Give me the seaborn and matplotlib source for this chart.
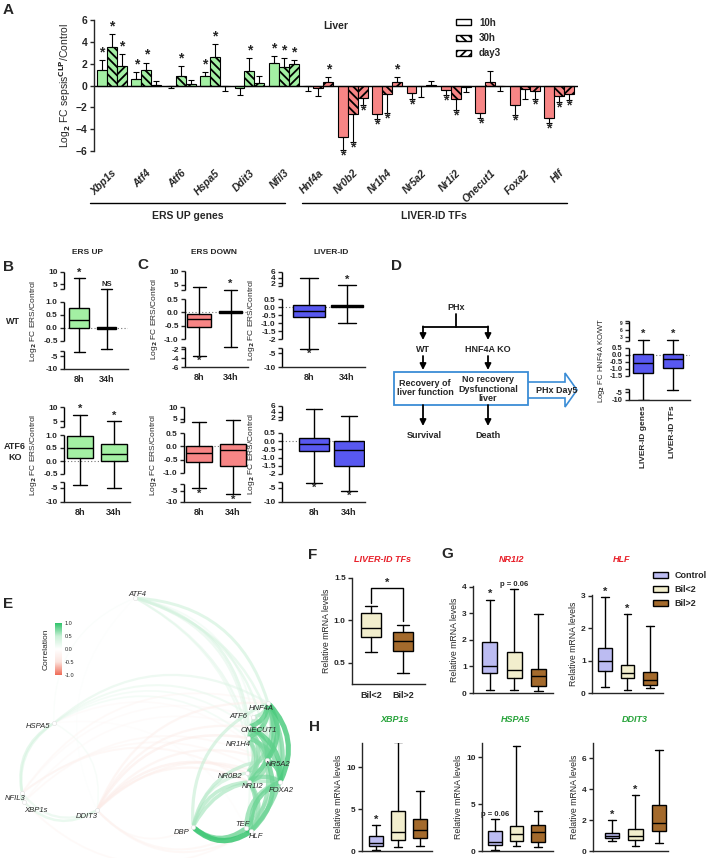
import numpy as np
import pandas as pd
import matplotlib
matplotlib.use("Agg")
import matplotlib.pyplot as plt
import seaborn as sns
from matplotlib.patches import Patch, FancyArrowPatch, Rectangle, FancyArrow
from matplotlib.lines import Line2D
from matplotlib.colors import LinearSegmentedColormap, Normalize
from matplotlib.cm import ScalarMappable
from matplotlib.transforms import ScaledTranslation

# -------------------------------
# Data
# -------------------------------
# A: log2 FC sepsis / control in liver
genes = ["Xbp1s", "Atf4", "Atf6", "Hspa5", "Ddit3", "Nfil3", "Hnf4a", "Nr0b2",
         "Nr1h4", "Nr5a2", "Nr1i2", "Onecut1", "Foxa2", "Hlf"]
n_ers = 6
time_points = ["10h", "30h", "day3"]
fc_10h = [1.4, 0.6, -0.02, 0.9, -0.2, 2.1, -0.02, -4.7, -2.6, -0.7, -0.45, -2.5, -1.8, -3.0]
fc_30h = [3.5, 1.4, 0.9, 2.6, 1.3, 1.65, -0.2, -2.6, -0.75, -0.02, -1.2, 0.35, -0.3, -1.0]
fc_day3 = [1.8, 0.05, 0.1, -0.02, 0.25, 2.0, 0.3, -1.1, 0.3, 0.02, -0.1, -0.02, -0.5, -0.8]
err_10h = [0.9, 0.6, 0.2, 0.3, 0.7, 0.6, 0.5, 1.2, 0.5, 0.5, 0.4, 0.5, 0.9, 0.4]
err_30h = [1.2, 0.7, 0.9, 1.2, 1.2, 0.85, 0.8, 2.6, 1.8, 1.0, 1.0, 0.95, 0.9, 0.5]
err_day3 = [1.1, 0.35, 0.4, 0.5, 0.6, 0.3, 0.5, 0.7, 0.5, 0.4, 0.5, 0.45, 0.7, 0.5]
sig_10h = [1, 1, 0, 1, 0, 1, 0, 1, 1, 1, 1, 1, 1, 1]
sig_30h = [1, 1, 1, 1, 1, 1, 0, 1, 1, 0, 1, 0, 0, 1]
sig_day3 = [1, 0, 0, 0, 0, 1, 1, 1, 1, 0, 0, 0, 1, 1]

# B/C/D: box summaries (whislo, q1, median, q3, whishi)
hours = ["8h", "34h"]
ers_up_wt = [(-3.5, 0.0, 0.3, 0.78, 7.5), (-2.5, -0.04, 0.0, 0.04, 3.0)]
ers_down_wt = [(-3.5, -0.55, -0.25, -0.05, 4.0), (-1.6, -0.04, 0.0, 0.06, 3.0)]
liver_id_wt = [(-3.3, -0.6, -0.25, 0.1, 3.8), (-1.0, 0.02, 0.05, 0.1, 1.2)]
ers_up_ko = [(-4.0, 0.1, 0.5, 0.95, 7.3), (-5.0, 0.0, 0.27, 0.65, 5.0)]
ers_down_ko = [(-4.0, -0.6, -0.25, 0.0, 3.5), (-6.5, -0.75, -0.15, 0.1, 4.5)]
liver_id_ko = [(-3.2, -0.6, -0.2, 0.2, 5.0), (-6.0, -1.5, -0.55, 0.0, 2.3)]
hnf4a_groups = ["LIVER-ID genes", "LIVER-ID TFs"]
hnf4a_ko = [(-10.0, -1.3, -0.55, 0.05, 1.6), (-3.5, -0.95, -0.3, 0.1, 1.6)]

# E: correlation network
nodes = ["ATF4", "HSPA5", "NFIL3", "XBP1s", "DDIT3", "DBP", "TEF", "HLF", "HNF4A",
         "ATF6", "ONECUT1", "NR1H4", "NR5A2", "NR0B2", "NR1I2", "FOXA2"]
edges = [
    ("ATF4", "HNF4A", 0.45), ("ATF4", "ONECUT1", 0.4), ("ATF4", "NR5A2", 0.35),
    ("ATF4", "FOXA2", 0.35), ("ATF4", "NR1H4", 0.3), ("ATF4", "HLF", 0.3),
    ("ATF4", "HSPA5", 0.1), ("ATF4", "DDIT3", 0.05), ("ATF4", "ATF6", 0.2), ("ATF4", "TEF", 0.25),
    ("HSPA5", "NFIL3", 0.4), ("HSPA5", "XBP1s", 0.35), ("HSPA5", "HNF4A", 0.3),
    ("HSPA5", "ATF6", 0.25), ("HSPA5", "NR1H4", 0.2), ("HSPA5", "DDIT3", 0.15),
    ("HSPA5", "ONECUT1", 0.2), ("HSPA5", "NR5A2", -0.15), ("HSPA5", "TEF", -0.1),
    ("NFIL3", "XBP1s", 0.4), ("NFIL3", "HNF4A", -0.2), ("NFIL3", "NR1I2", -0.25),
    ("NFIL3", "FOXA2", -0.2), ("NFIL3", "DDIT3", 0.3), ("NFIL3", "ATF6", -0.15),
    ("XBP1s", "DDIT3", 0.35), ("XBP1s", "NR5A2", -0.2), ("XBP1s", "HLF", -0.2),
    ("XBP1s", "ONECUT1", -0.15),
    ("DDIT3", "HNF4A", -0.3), ("DDIT3", "ONECUT1", -0.3), ("DDIT3", "NR1H4", -0.35),
    ("DDIT3", "NR5A2", -0.3), ("DDIT3", "NR0B2", -0.35), ("DDIT3", "NR1I2", -0.3),
    ("DDIT3", "FOXA2", -0.3), ("DDIT3", "TEF", -0.25), ("DDIT3", "HLF", -0.25), ("DDIT3", "DBP", -0.2),
    ("DBP", "HLF", 0.95), ("DBP", "TEF", 0.8), ("DBP", "NR1I2", 0.6), ("DBP", "NR0B2", 0.5),
    ("DBP", "HNF4A", 0.5), ("DBP", "FOXA2", 0.6), ("DBP", "NR5A2", 0.55),
    ("TEF", "HLF", 0.9), ("TEF", "NR1I2", 0.7), ("TEF", "HNF4A", 0.6), ("TEF", "FOXA2", 0.7),
    ("HLF", "HNF4A", 0.75), ("HLF", "NR5A2", 0.8), ("HLF", "FOXA2", 0.8),
    ("HLF", "NR1I2", 0.7), ("HLF", "ONECUT1", 0.7),
    ("HNF4A", "ATF6", 0.6), ("HNF4A", "ONECUT1", 0.85), ("HNF4A", "NR1H4", 0.8),
    ("HNF4A", "NR5A2", 0.85), ("HNF4A", "NR0B2", 0.7), ("HNF4A", "NR1I2", 0.8), ("HNF4A", "FOXA2", 0.9),
    ("ATF6", "ONECUT1", 0.6), ("ATF6", "NR5A2", 0.55), ("ATF6", "FOXA2", 0.5),
    ("ONECUT1", "NR1H4", 0.75), ("ONECUT1", "NR5A2", 0.8), ("ONECUT1", "FOXA2", 0.85),
    ("ONECUT1", "NR1I2", 0.7), ("NR1H4", "NR5A2", 0.75), ("NR1H4", "NR0B2", 0.6),
    ("NR1H4", "NR1I2", 0.7), ("NR1H4", "FOXA2", 0.75), ("NR5A2", "FOXA2", 0.85),
    ("NR5A2", "NR1I2", 0.7), ("NR5A2", "NR0B2", 0.65), ("NR0B2", "NR1I2", 0.6),
    ("NR1I2", "FOXA2", 0.75),
]

# F/G/H: human relative mRNA levels
cohorts = ["Control", "Bil<2", "Bil>2"]
f_liver_tfs = [(0.63, 0.80, 0.91, 1.09, 1.17), (0.38, 0.64, 0.76, 0.86, 0.95)]
g_nr1i2 = [(0.12, 0.75, 1.0, 1.92, 3.5), (0.1, 0.58, 0.85, 1.55, 3.9), (0.07, 0.28, 0.62, 0.92, 2.95)]
g_hlf = [(0.18, 0.68, 1.0, 1.4, 2.95), (0.08, 0.47, 0.63, 0.87, 2.42), (0.15, 0.25, 0.4, 0.65, 2.05)]
h_xbp1s = [(0.1, 0.6, 1.0, 1.8, 3.1), (0.5, 1.3, 2.3, 4.8, 13.0), (0.6, 1.5, 2.5, 3.8, 7.2)]
h_hspa5 = [(0.1, 0.6, 1.0, 2.1, 3.4), (0.5, 1.05, 1.85, 2.65, 11.2), (0.4, 1.0, 2.05, 2.8, 4.3)]
h_ddit3 = [(0.65, 0.85, 1.0, 1.15, 2.0), (0.35, 0.7, 1.0, 1.4, 3.6), (0.55, 1.3, 1.8, 3.0, 6.55)]

# -------------------------------
# Style
# -------------------------------
sns.set_style("ticks")
plt.rcParams['font.family'] = ['Liberation Sans', 'DejaVu Sans']
plt.rcParams['font.weight'] = 'bold'
plt.rcParams['mathtext.default'] = 'bf'
plt.rcParams['hatch.linewidth'] = 1.3
plt.rcParams['axes.linewidth'] = 1.0
plt.rcParams['xtick.major.width'] = 1.0
plt.rcParams['ytick.major.width'] = 1.0
plt.rcParams['ytick.minor.width'] = 1.0
plt.rcParams['xtick.major.size'] = 3
plt.rcParams['ytick.major.size'] = 3
plt.rcParams['ytick.minor.size'] = 3
plt.rcParams['xtick.labelsize'] = 6
plt.rcParams['ytick.labelsize'] = 6
plt.rcParams['xtick.major.pad'] = 2
plt.rcParams['ytick.major.pad'] = 1.5

GREEN = "#a3f0a3"
RED = "#f78585"
BLUE = "#5858f0"
C_CTRL = "#bcbcf2"
C_LOW = "#f2eecd"
C_HIGH = "#a46a2c"
FLOW = "#3a8cd6"

W, H = 709, 858
fig = plt.figure(figsize=(W / 100, H / 100), dpi=100)


def add_ax(l, t, r, b):
    return fig.add_axes([l / W, 1 - b / H, (r - l) / W, (b - t) / H])


def ftext(x, y, s, **kw):
    fig.text(x / W, 1 - y / H, s, **kw)


def fline(xs, ys, **kw):
    fig.add_artist(Line2D([x / W for x in xs], [1 - y / H for y in ys], **kw))


def to_stats(rows):
    return [dict(whislo=a, q1=b, med=c, q3=d, whishi=e, fliers=[]) for a, b, c, d, e in rows]


def draw_boxes(ax, rows, colors, widths, lw=1.0):
    ax.bxp(to_stats(rows), positions=range(len(rows)), widths=widths, patch_artist=True,
           showfliers=False, capwidths=widths * 0.55,
           boxprops=dict(edgecolor='black', linewidth=lw),
           medianprops=dict(color='black', linewidth=lw),
           whiskerprops=dict(color='black', linewidth=lw),
           capprops=dict(color='black', linewidth=lw))
    for patch, c in zip(ax.patches, colors):
        patch.set_facecolor(c)


def star(ax, x, y, up=True, s='*', size=8, down_off=-7.5):
    ax.annotate(s, (x, y), xytext=(0, 0.5 if up else down_off), textcoords='offset points',
                ha='center', va='bottom', fontsize=size, annotation_clip=False)


# -------------------------------
# Panel A
# -------------------------------
ax = add_ax(94, 20, 578, 151)
df_a = pd.DataFrame({
    'gene': genes * 3,
    'time': np.repeat(time_points, len(genes)),
    'fc': fc_10h + fc_30h + fc_day3,
})
sns.barplot(data=df_a, x='gene', y='fc', hue='time', order=genes, hue_order=time_points,
            errorbar=None, width=0.87, edgecolor='black', linewidth=0.8, legend=False,
            palette=['white'] * 3, ax=ax)
hatches = ['', '\\\\\\\\', '////']
series = [fc_10h, fc_30h, fc_day3]
errs = [err_10h, err_30h, err_day3]
sigs = [sig_10h, sig_30h, sig_day3]
bar_groups = list(ax.containers)[:3]
for k, cont in enumerate(bar_groups):
    for j, bar in enumerate(cont.patches):
        bar.set_facecolor(GREEN if j < n_ers else RED)
        bar.set_hatch(hatches[k])
        xc = bar.get_x() + bar.get_width() / 2
        v, e = series[k][j], errs[k][j]
        yerr = [[0], [e]] if v >= 0 else [[e], [0]]
        ax.errorbar(xc, v, yerr=yerr, fmt='none', ecolor='black', elinewidth=0.8,
                    capsize=2.2, capthick=0.8)
        if sigs[k][j]:
            star(ax, xc, v + e if v >= 0 else v - e, up=v >= 0, size=10, down_off=-9)
ax.axhline(0, color='black', lw=1.0)
ax.set_ylim(-6, 6)
ax.set_xlim(-0.52, 13.55)
ax.set_yticks(range(-6, 7, 2))
ax.set_xticks(range(len(genes)))
ax.set_xticklabels(genes, rotation=45, ha='right', rotation_mode='anchor',
                   style='italic', fontsize=7.5)
for lbl in ax.get_xticklabels():
    lbl.set_transform(lbl.get_transform() + ScaledTranslation(6 / 72, 0, fig.dpi_scale_trans))
ax.tick_params(axis='x', length=0, pad=12)
ax.tick_params(axis='y', labelsize=7.5)
sns.despine(ax=ax, bottom=True)
ax.set_xlabel("")
ax.set_ylabel(r"Log$_2$ FC sepsis$^{CLP}$/Control", fontsize=7.5, labelpad=2)
ax.text(0.5, 0.99, "Liver", transform=ax.transAxes, ha='center', va='top', fontsize=7.5)
fig.legend([Patch(facecolor='white', edgecolor='black', hatch=h) for h in hatches], time_points,
           loc='upper left', bbox_to_anchor=(447 / W, 1 - 9 / H), frameon=False,
           prop=dict(size=7, weight='bold'), handlelength=1.6, handleheight=0.6,
           labelspacing=0.55, handletextpad=0.8)
fline([90, 285], [203, 203], color='black', lw=1)
fline([302, 567], [203, 203], color='black', lw=1)
ftext(188, 216, "ERS UP genes", ha='center', va='center', fontsize=7.5)
ftext(434, 216, "LIVER-ID TFs", ha='center', va='center', fontsize=7.5)


# -------------------------------
# Panels B, C, D box plots with broken y axes
# -------------------------------
def broken_box(l, r, vals, pxs, ticks, rows, color, xlim, widths, stars, labels=hours,
               tick_fs=6, lw=1.0):
    top, bottom = pxs[-1], pxs[0]
    bax = add_ax(l, top, r, bottom)
    pos = [bottom - p for p in pxs]
    bax.set_yscale('function', functions=(lambda y: np.interp(y, vals, pos),
                                          lambda p: np.interp(p, pos, vals)))
    draw_boxes(bax, rows, [color] * len(rows), widths, lw=lw)
    bax.axhline(0, ls=(0, (1, 2)), color='0.45', lw=0.8, zorder=0)
    bax.set_ylim(vals[0], vals[-1])
    bax.set_xlim(*xlim)
    bax.spines[['left', 'top', 'right']].set_visible(False)
    for a, b in [(vals[0], vals[1]), (vals[2], vals[3]), (vals[4], vals[5])]:
        bax.plot([0, 0], [a, b], transform=bax.get_yaxis_transform(), color='black',
                 lw=1.0, clip_on=False, solid_capstyle='butt')
    bax.set_yticks(ticks)
    bax.set_yticklabels([f"{t:g}" if abs(t) >= 2 else f"{t:.1f}" for t in ticks], fontsize=tick_fs)
    bax.set_yticks([v for v in vals if v not in ticks], minor=True)
    bax.set_xticks(range(len(labels)))
    bax.set_xticklabels(labels, fontsize=6.5)
    bax.tick_params(axis='x', length=0, pad=4)
    for i, (kind, txt) in enumerate(stars):
        if kind:
            row = rows[i]
            star(bax, i, row[4] if kind == 'up' else row[0], up=kind == 'up', s=txt,
                 size=8 if txt == '*' else 5.5)
    bax.set_ylabel(r"Log$_2$ FC ERS/Control", fontsize=6, labelpad=3)
    return bax


up_ticks = [-10, -5, -0.5, 0.0, 0.5, 1.0, 5, 10]
broken_box(64, 128, [-10, -3, -0.5, 1.0, 3, 10], [369, 351, 341, 302, 289, 272], up_ticks,
           ers_up_wt, GREEN, (-0.55, 1.78), 0.72, [('up', '*'), ('up', 'NS')])
broken_box(185, 248, [-6, -1.5, -1.0, 0.5, 3, 10], [367, 347, 339, 299, 290, 271],
           [-6, -4, -2, -1.0, -0.5, 0.0, 0.5, 5, 10],
           ers_down_wt, RED, (-0.45, 1.55), 0.75, [('down', '*'), ('up', '*')])
broken_box(282, 365, [-10, -3, -2.0, 0.5, 1.0, 6], [367, 348, 339, 299, 286, 272],
           [-10, -5, -2.0, -1.5, -1.0, -0.5, 0.0, 0.5, 2, 4, 6],
           liver_id_wt, BLUE, (-0.71, 1.47), 0.85, [('down', '*'), ('up', '*')])
broken_box(64, 130, [-10, -3, -0.5, 1.0, 3, 10], [502, 482, 474, 435, 427, 407], up_ticks,
           ers_up_ko, GREEN, (-0.47, 1.47), 0.75, [('up', '*'), ('up', '*')])
broken_box(184, 250, [-10, -2, -1.0, 0.5, 3.5, 10], [502, 484, 473, 433, 422, 407],
           [-10, -5, -1.0, -0.5, 0.0, 0.5, 5, 10],
           ers_down_ko, RED, (-0.44, 1.5), 0.75, [('down', '*'), ('down', '*')])
broken_box(282, 365, [-10, -3, -2.0, 0.5, 1.0, 6], [502, 482, 474, 433, 420, 406],
           [-10, -5, -2.0, -1.5, -1.0, -0.5, 0.0, 0.5, 2, 4, 6],
           liver_id_ko, BLUE, (-0.9, 1.45), 0.85, [('down', '*'), ('down', '*')])
dax = broken_box(629, 690, [-10, -3, -1.5, 0.5, 1.0, 10], [400, 389, 376, 348, 341, 321],
                 [-10, -5, -1.5, -1.0, -0.5, 0.0, 0.5, 3, 6, 9],
                 hnf4a_ko, BLUE, (-0.47, 1.57), 0.67, [('up', '*'), ('up', '*')],
                 labels=hnf4a_groups, tick_fs=5.5)
dax.set_xticklabels(hnf4a_groups, rotation=90, fontsize=6)
dax.set_ylabel(r"Log$_2$ FC HNF4A KO/WT", fontsize=5.5, labelpad=2)
for lbl in dax.get_yticklabels()[-3:]:
    lbl.set_fontsize(3.5)

ftext(88, 253, "ERS UP", ha='center', va='center', fontsize=6)
ftext(214, 253, "ERS DOWN", ha='center', va='center', fontsize=6)
ftext(331, 253, "LIVER-ID", ha='center', va='center', fontsize=6)
ftext(13, 321, "WT", ha='center', va='center', fontsize=6.5)
ftext(15, 452, "ATF6\nKO", ha='center', va='center', fontsize=6.5, linespacing=1.3)

# -------------------------------
# Panel D flow chart
# -------------------------------
fax = add_ax(385, 295, 605, 445)
fax.set_xlim(385, 605)
fax.set_ylim(445, 295)
fax.axis('off')
kw = dict(ha='center', va='center', fontsize=6.5)
arrow = dict(arrowstyle='-|>', color='black', lw=1.3, mutation_scale=9, shrinkA=0, shrinkB=0)
fax.text(456, 307, "PHx", **kw)
fax.plot([456, 456], [314, 327], color='black', lw=1.3)
fax.plot([423, 488], [327, 327], color='black', lw=1.3)
for x in (423, 488):
    fax.annotate('', (x, 340), (x, 326.4), arrowprops=arrow)
    fax.annotate('', (x, 370), (x, 356), arrowprops=arrow)
    fax.annotate('', (x, 426), (x, 405), arrowprops=arrow)
fax.text(423, 349, "WT", **kw)
fax.text(488, 349, "HNF4A KO", **kw)
fax.add_patch(FancyArrow(527, 390, 50, 0, width=16, head_width=34, head_length=12,
                         length_includes_head=True, fc='white', ec=FLOW, lw=1.2))
fax.add_patch(Rectangle((394, 372), 134, 33, fc='white', ec=FLOW, lw=1.3))
fax.text(425, 388, "Recovery of\nliver function", linespacing=1.1, **kw)
fax.text(488, 389, "No recovery\nDysfunctional\nliver", linespacing=1.1, **kw)
fax.text(557, 390, "PHx Day5", **kw)
fax.text(424, 435, "Survival", **kw)
fax.text(488, 435, "Death", **kw)

# -------------------------------
# Panel E correlation network
# -------------------------------
node_xy = {"ATF4": (135, 598), "HSPA5": (54, 723), "NFIL3": (22, 793), "XBP1s": (24, 802),
           "DDIT3": (97, 810), "DBP": (193, 827), "TEF": (246, 828), "HLF": (251, 831),
           "HNF4A": (268, 703), "ATF6": (253, 717), "ONECUT1": (249, 727), "NR1H4": (248, 738),
           "NR5A2": (267, 760), "NR0B2": (247, 773), "NR1I2": (249, 782), "FOXA2": (280, 782)}
label_xy = {"ATF4": (137, 594), "HSPA5": (38, 726), "NFIL3": (15, 798), "XBP1s": (36, 810),
            "DDIT3": (87, 817), "DBP": (182, 832), "TEF": (242, 825), "HLF": (256, 837),
            "HNF4A": (261, 708), "ATF6": (238, 717), "ONECUT1": (259, 731), "NR1H4": (238, 744),
            "NR5A2": (278, 765), "NR0B2": (230, 777), "NR1I2": (253, 787), "FOXA2": (281, 790)}
bottom_row = {"NFIL3", "XBP1s", "DDIT3", "DBP", "TEF", "HLF"}
cmap = LinearSegmentedColormap.from_list("corr", ["#ef6a55", "#fbe3dd", "#ffffff", "#c9efd6", "#2fc36a"])

eax = add_ax(0, 585, 305, 858)
eax.set_xlim(0, 305)
eax.set_ylim(858, 585)
eax.axis('off')
for a, b, r in sorted(edges, key=lambda e: abs(e[2])):
    p1, p2 = node_xy[a], node_xy[b]
    if abs(p1[0] - p2[0]) < 25:
        if p1[1] > p2[1]:
            p1, p2 = p2, p1
    elif p1[0] > p2[0]:
        p1, p2 = p2, p1
    rad = 0.4 if (a in bottom_row and b in bottom_row) else -0.35
    eax.add_patch(FancyArrowPatch(p1, p2, connectionstyle=f"arc3,rad={rad}", arrowstyle='-',
                                  color=cmap((r + 1) / 2), lw=0.6 + 3.4 * abs(r),
                                  alpha=0.35 + 0.55 * abs(r), zorder=2))
xy = np.array([node_xy[n] for n in nodes])
eax.scatter(xy[:, 0], xy[:, 1], s=9, c='white', edgecolors='#dddddd', linewidths=0.4, zorder=5)
for n in nodes:
    eax.text(*label_xy[n], n, ha='center', va='center', fontsize=5.5, style='italic',
             fontweight='normal', zorder=6)
cax = add_ax(55, 623, 62, 675)
cb = fig.colorbar(ScalarMappable(norm=Normalize(-1, 1), cmap=cmap), cax=cax,
                  ticks=[1.0, 0.5, 0.0, -0.5, -1.0], format='%.1f')
cb.outline.set_visible(False)
cax.tick_params(labelsize=4, length=0, pad=2)
for lbl in cax.get_yticklabels():
    lbl.set_fontweight('normal')
cax.set_ylabel("Correlation", fontsize=6)
cax.yaxis.set_label_position('left')


# -------------------------------
# Panels F, G, H
# -------------------------------
def simple_box(l, t, r, b, rows, colors, xlim, ylim, yticks, widths, title, title_color,
               title_x, title_y, xlabels=None):
    sax = add_ax(l, t, r, b)
    draw_boxes(sax, rows, colors, widths)
    sax.set_xlim(*xlim)
    sax.set_ylim(*ylim)
    sax.set_yticks(yticks)
    sns.despine(ax=sax)
    if xlabels:
        sax.set_xticks(range(len(xlabels)))
        sax.set_xticklabels(xlabels, fontsize=6.5)
        sax.tick_params(axis='x', length=0, pad=5)
    else:
        sax.set_xticks([])
    sax.set_ylabel("Relative mRNA levels", fontsize=6.3, labelpad=2)
    ftext(title_x, title_y, title, ha='center', va='center', fontsize=6.5, style='italic',
          color=title_color)
    return sax


fax2 = simple_box(352, 578, 425, 684, f_liver_tfs, [C_LOW, C_HIGH], (-0.6, 1.69), (0.25, 1.5),
                  [0.5, 1.0, 1.5], 0.65, "LIVER-ID TFs", "#e8202a", 382, 560, xlabels=cohorts[1:])
fax2.plot([0, 0, 1, 1], [1.2, 1.38, 1.38, 0.99], color='black', lw=1.0)
star(fax2, 0.5, 1.38)

gax1 = simple_box(473, 586, 553, 693, g_nr1i2, [C_CTRL, C_LOW, C_HIGH], (-0.7, 2.6), (0, 4.02),
                  [0, 1, 2, 3, 4], 0.62, "NR1I2", "#e8202a", 512, 560)
star(gax1, 0, g_nr1i2[0][4])
gax1.annotate("p = 0.06", (1, g_nr1i2[1][4]), xytext=(0, 1), textcoords='offset points',
              ha='center', va='bottom', fontsize=5.5, annotation_clip=False)
gax2 = simple_box(592, 595, 663, 693, g_hlf, [C_CTRL, C_LOW, C_HIGH], (-0.58, 2.58), (0, 3.02),
                  [0, 1, 2, 3], 0.6, "HLF", "#e8202a", 622, 560)
star(gax2, 0, g_hlf[0][4])
star(gax2, 1, g_hlf[1][4])
fig.legend([Patch(facecolor=c, edgecolor='black', lw=1) for c in (C_CTRL, C_LOW, C_HIGH)], cohorts,
           loc='upper left', bbox_to_anchor=(645 / W, 1 - 563 / H), frameon=False,
           prop=dict(size=6.5, weight='bold'), handlelength=1.6, handleheight=0.6,
           labelspacing=0.55, handletextpad=0.8)

hax1 = simple_box(362, 743, 432, 851, h_xbp1s, [C_CTRL, C_LOW, C_HIGH], (-0.64, 2.55), (0, 12.9),
                  [0, 5, 10], 0.6, "XBP1s", "#27a33a", 395, 720)
star(hax1, 0, h_xbp1s[0][4])
hax2 = simple_box(482, 743, 553, 851, h_hspa5, [C_CTRL, C_LOW, C_HIGH], (-0.6, 2.7), (0, 11.5),
                  [0, 5, 10], 0.62, "HSPA5", "#27a33a", 516, 720)
hax2.annotate("p = 0.06", (0, h_hspa5[0][4]), xytext=(0, 1), textcoords='offset points',
              ha='center', va='bottom', fontsize=5.5, annotation_clip=False)
hax3 = simple_box(593, 743, 668, 851, h_ddit3, [C_CTRL, C_LOW, C_HIGH], (-0.83, 2.4), (0, 7.0),
                  [0, 2, 4, 6], 0.62, "DDIT3", "#27a33a", 635, 720)
star(hax3, 0, h_ddit3[0][4])
star(hax3, 1, h_ddit3[1][4])

# panel letters
for letter, x, y in [("A", 8, 10), ("B", 8, 267), ("C", 143, 265), ("D", 396, 266),
                     ("E", 8, 604), ("F", 313, 555), ("G", 447, 554), ("H", 315, 727)]:
    ftext(x, y, letter, ha='center', va='center', fontsize=11)

fig.savefig("out.png", dpi=100)
